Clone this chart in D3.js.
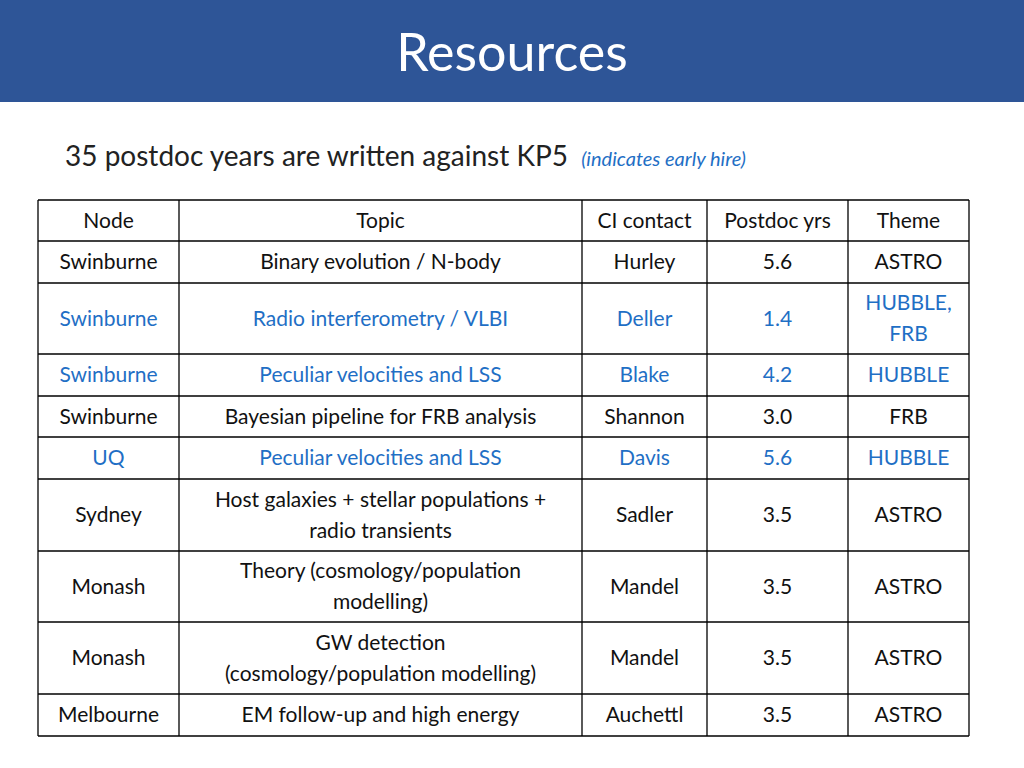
<!DOCTYPE html>
<html><head><meta charset="utf-8">
<script src="https://cdn.jsdelivr.net/npm/d3@7"></script>
<style>body{margin:0;background:#fff}svg{display:block}</style>
</head><body>
<script>
const headers = ["Node","Topic","CI contact","Postdoc yrs","Theme"];
const nodes = ["Swinburne","Swinburne","Swinburne","Swinburne","UQ","Sydney","Monash","Monash","Melbourne"];
const topics = [["Binary evolution / N-body"],["Radio interferometry / VLBI"],["Peculiar velocities and LSS"],["Bayesian pipeline for FRB analysis"],["Peculiar velocities and LSS"],["Host galaxies + stellar populations +","radio transients"],["Theory (cosmology/population","modelling)"],["GW detection","(cosmology/population modelling)"],["EM follow-up and high energy"]];
const contacts = ["Hurley","Deller","Blake","Shannon","Davis","Sadler","Mandel","Mandel","Auchettl"];
const years = ["5.6","1.4","4.2","3.0","5.6","3.5","3.5","3.5","3.5"];
const themes = [["ASTRO"],["HUBBLE,","FRB"],["HUBBLE"],["FRB"],["HUBBLE"],["ASTRO"],["ASTRO"],["ASTRO"],["ASTRO"]];
const earlyHire = [false,true,true,false,true,false,false,false,false];
const colEdges = [38,179,582,707,848,969];
const rowEdges = [200,241,283,354,396,437,479,551,622,694,736];

const W=1024,H=768, blue="#1F6FC5", font="Lato, 'Open Sans', sans-serif";
const svg=d3.select("body").append("svg").attr("width",W).attr("height",H);
svg.append("rect").attr("width",W).attr("height",102).attr("fill","#2E5597");
svg.append("text").attr("x",512).attr("y",71).attr("text-anchor","middle").attr("fill","#fff")
  .style("font-family",font).style("font-size","52px").text("Resources");
const sub=svg.append("text").attr("x",65).attr("y",166).style("font-family",font).attr("fill","#222");
sub.append("tspan").style("font-size","28px").text("35 postdoc years are written against KP5 ");
sub.append("tspan").style("font-size","20px").style("font-style","italic").attr("fill",blue).attr("dx",6).text("(indicates early hire)");

const rows=[{cells:headers.map(h=>[h]),blue:false}].concat(nodes.map((n,i)=>({cells:[[n],topics[i],[contacts[i]],[years[i]],themes[i]],blue:earlyHire[i]})));
const g=svg.append("g");
rows.forEach((r,ri)=>{
  const y0=rowEdges[ri],y1=rowEdges[ri+1],cy=(y0+y1)/2;
  r.cells.forEach((lines,ci)=>{
    const cx=(colEdges[ci]+colEdges[ci+1])/2, lh=31;
    lines.forEach((t,li)=>{
      g.append("text").attr("x",cx).attr("y",cy+(li-(lines.length-1)/2)*lh+7)
       .attr("text-anchor","middle").style("font-family",font).style("font-size","21px")
       .attr("fill",r.blue?blue:"#111").text(t);
    });
  });
});
rowEdges.forEach(y=>g.append("line").attr("x1",colEdges[0]).attr("x2",colEdges[5]).attr("y1",y).attr("y2",y).attr("stroke","#000").attr("stroke-width",1.3));
colEdges.forEach(x=>g.append("line").attr("x1",x).attr("x2",x).attr("y1",rowEdges[0]).attr("y2",rowEdges[10]).attr("stroke","#000").attr("stroke-width",1.3));
</script>
</body></html>
